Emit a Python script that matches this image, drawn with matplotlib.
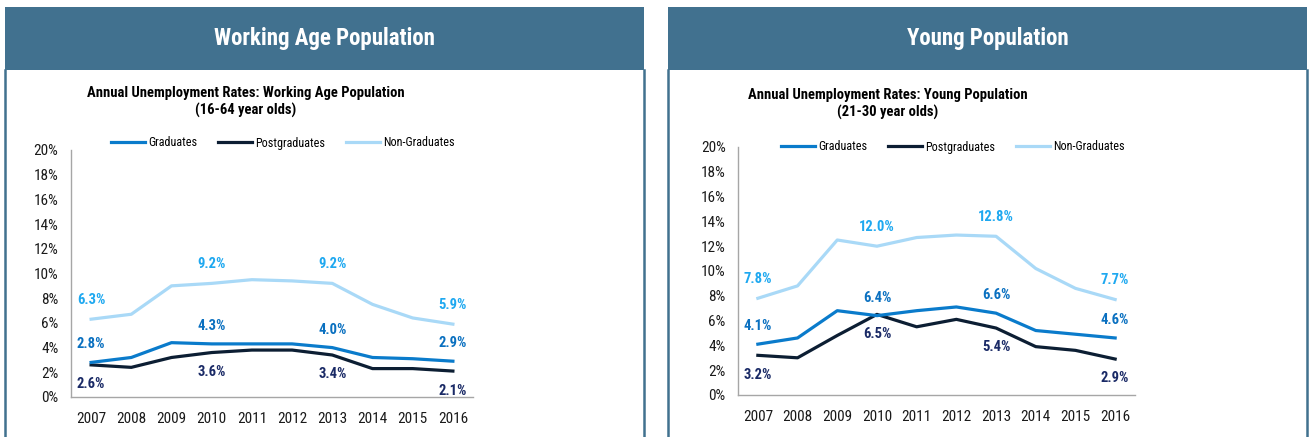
import matplotlib
matplotlib.use("Agg")
import matplotlib.pyplot as plt
from matplotlib.patches import Rectangle
from matplotlib.lines import Line2D

plt.rcParams['font.family'] = ['Roboto Condensed', 'DejaVu Sans']

# данные
years = [2007, 2008, 2009, 2010, 2011, 2012, 2013, 2014, 2015, 2016]
series_names = ['Graduates', 'Postgraduates', 'Non-Graduates']

work_grad = [2.8, 3.2, 4.4, 4.3, 4.3, 4.3, 4.0, 3.2, 3.1, 2.9]
work_post = [2.6, 2.4, 3.2, 3.6, 3.8, 3.8, 3.4, 2.3, 2.3, 2.1]
work_nongrad = [6.3, 6.7, 9.0, 9.2, 9.5, 9.4, 9.2, 7.5, 6.4, 5.9]

young_grad = [4.1, 4.6, 6.8, 6.4, 6.8, 7.1, 6.6, 5.2, 4.9, 4.6]
young_post = [3.2, 3.0, 4.8, 6.5, 5.5, 6.1, 5.4, 3.9, 3.6, 2.9]
young_nongrad = [7.8, 8.8, 12.5, 12.0, 12.7, 12.9, 12.8, 10.2, 8.6, 7.7]

label_years = [2007, 2010, 2013, 2016]

header_titles = ['Working Age Population', 'Young Population']
chart_titles = ['Annual Unemployment Rates: Working Age Population\n(16-64 year olds)',
                'Annual Unemployment Rates: Young Population\n(21-30 year olds)']

# цвета
header_col = '#41718F'
line_cols = ['#0A7BCB', '#0C1E33', '#A9D9F7']
text_cols = ['#0A70C0', '#1A2A66', '#1EA8F0']
offsets = [13, -14, 14]

W, H = 1310, 437
fig = plt.figure(figsize=(W / 100, H / 100), dpi=100)


def fx(px):
    return px / W


def fy(py):
    return 1 - py / H


panels = [
    dict(x0=5, x1=644, ax=(71, 150, 473, 397), tx=246, ty=102, leg=(283, 143),
         data=[work_grad, work_post, work_nongrad]),
    dict(x0=668, x1=1307, ax=(738, 147, 1135, 395), tx=888, ty=104, leg=(953, 147),
         data=[young_grad, young_post, young_nongrad]),
]

for i, p in enumerate(panels):
    # шапка
    fig.patches.append(Rectangle((fx(p['x0']), fy(70)), fx(p['x1'] - p['x0']), (70 - 7) / H,
                                 transform=fig.transFigure, facecolor=header_col,
                                 edgecolor='none', zorder=0))
    for xb in (p['x0'], p['x1']):
        fig.lines.append(Line2D([fx(xb), fx(xb)], [fy(70), 0], transform=fig.transFigure,
                                color=header_col, lw=1.8))
    fig.text(fx((p['x0'] + p['x1']) / 2), fy(39), header_titles[i], color='white',
             fontsize=16.5, fontweight='bold', ha='center', va='center')
    fig.text(fx(p['tx']), fy(p['ty']), chart_titles[i], fontsize=10.5,
             fontweight='bold', ha='center', va='center', linespacing=1.2)

    l, t, r, b = p['ax']
    ax = fig.add_axes([fx(l), fy(b), fx(r - l), (b - t) / H])
    for k, vals in enumerate(p['data']):
        ax.plot(years, vals, color=line_cols[k], lw=2.3, label=series_names[k],
                solid_joinstyle='round', zorder=3 - k * 0.1)
        for yr in label_years:
            v = vals[years.index(yr)]
            ax.annotate(f'{v:.1f}%', (yr, v), xytext=(0, offsets[k]),
                        textcoords='offset points', ha='center', va='center',
                        fontsize=10.5, fontweight='bold', color=text_cols[k])
    ax.set_xlim(2006.5, 2016.5)
    ax.set_ylim(0, 20)
    ax.set_xticks(years)
    ax.set_yticks(range(0, 21, 2))
    ax.set_yticklabels([f'{v}%' for v in range(0, 21, 2)])
    ax.tick_params(length=0, labelsize=11, pad=9, labelcolor='#1A1A1A')
    ax.tick_params(axis='x', pad=11)
    for s in ('top', 'right'):
        ax.spines[s].set_visible(False)
    for s in ('left', 'bottom'):
        ax.spines[s].set_color('#A6A6A6')
        ax.spines[s].set_linewidth(1)
    ax.patch.set_alpha(0)

    lx, ly = p['leg']
    fig.legend(*ax.get_legend_handles_labels(), loc='center', ncol=3,
               bbox_to_anchor=(fx(lx), fy(ly)), frameon=False, fontsize=8.7,
               handlelength=2.8, handletextpad=0.3, columnspacing=1.7)

fig.savefig('out.png', dpi=100)
